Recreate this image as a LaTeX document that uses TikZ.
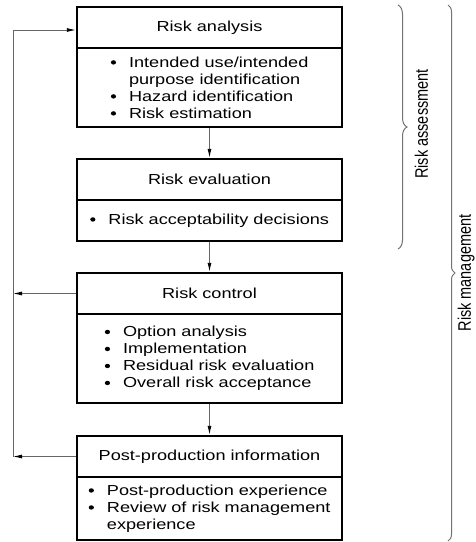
\documentclass[tikz,border=0pt]{standalone}
\usepackage{fontspec}
\setmainfont{Liberation Sans}[FakeStretch=1.25]
\newfontfamily\plainsans{Liberation Sans}
\usetikzlibrary{decorations.pathreplacing,arrows.meta}

% round bullet with a fixed hanging indent
\newcommand\itm{\makebox[18.5pt][l]{\hspace{0.3pt}\tikz[baseline=-4.8pt]\fill[black] (2.6pt,0pt) circle[x radius=2.6pt, y radius=2.2pt];}}
\newcommand\cont{\hspace*{18.5pt}}

\tikzset{
  stage/.style={draw=black, line width=2.4pt, minimum width=265pt, inner sep=0pt,
                align=left, font=\fontsize{14.5}{17}\selectfont},
  head/.style={stage, minimum height=41pt},
  link/.style={draw=black!60, line width=0.9pt, -{Latex[length=9pt,width=4pt,black]}},
  span/.style={draw=black!55, line width=1pt, decorate, decoration={brace, amplitude=#1}},
  side/.style={font=\plainsans\fontsize{14.5}{17}\selectfont, inner sep=0pt, xscale=1.25, rotate=90},
}

\begin{document}
\begin{tikzpicture}[x=1pt, y=-1pt]
  \useasboundingbox[fill=white] (0,0) rectangle (476,542);

  % process stages: header + activity list
  \node[head] (ra_h) at (209.5,27.5) {Risk analysis};
  \node[stage, minimum height=79pt] (ra_b) at (209.5,87.5)
    {\itm Intended use/intended\\ \cont purpose identification\\ \itm Hazard identification\\ \itm Risk estimation};

  \node[head] (re_h) at (209.5,179.5) {Risk evaluation};
  \node[stage, minimum height=41pt] (re_b) at (209.5,220.5)
    {\itm Risk acceptability decisions};

  \node[head] (rc_h) at (209.5,293.5) {Risk control};
  \node[stage, minimum height=89pt] (rc_b) at (209.5,358.5)
    {\itm Option analysis\\ \itm Implementation\\ \itm Residual risk evaluation\\ \itm Overall risk acceptance};

  \node[head] (pp_h) at (209.5,456.5) {Post-production information};
  \node[stage, minimum height=63pt] (pp_b) at (209.5,508.5)
    {\itm Post-production experience\\ \itm Review of risk management\\ \cont experience};

  % main flow
  \draw[link] (ra_b.south) -- (re_h.north);
  \draw[link] (re_b.south) -- (rc_h.north);
  \draw[link] (rc_b.south) -- (pp_h.north);

  % feedback loop on the left
  \coordinate (fbc) at (13,293.5);
  \coordinate (fbp) at (13,456.5);
  \draw[link] (rc_h.west) -- (fbc);
  \draw[link] (pp_h.west) -- (fbp);
  \draw[link] (fbp) |- ([yshift=-2.5pt]ra_h.west);

  % grouping braces
  \draw[span=9pt] (398,5) -- (398,249);
  \node[side] (assess) at (421.5,124) {Risk assessment};
  \draw[span=7pt] (448,5) -- (448,541);
  \node[side, anchor=south] (manage) at (475,273) {Risk management};
\end{tikzpicture}
\end{document}
